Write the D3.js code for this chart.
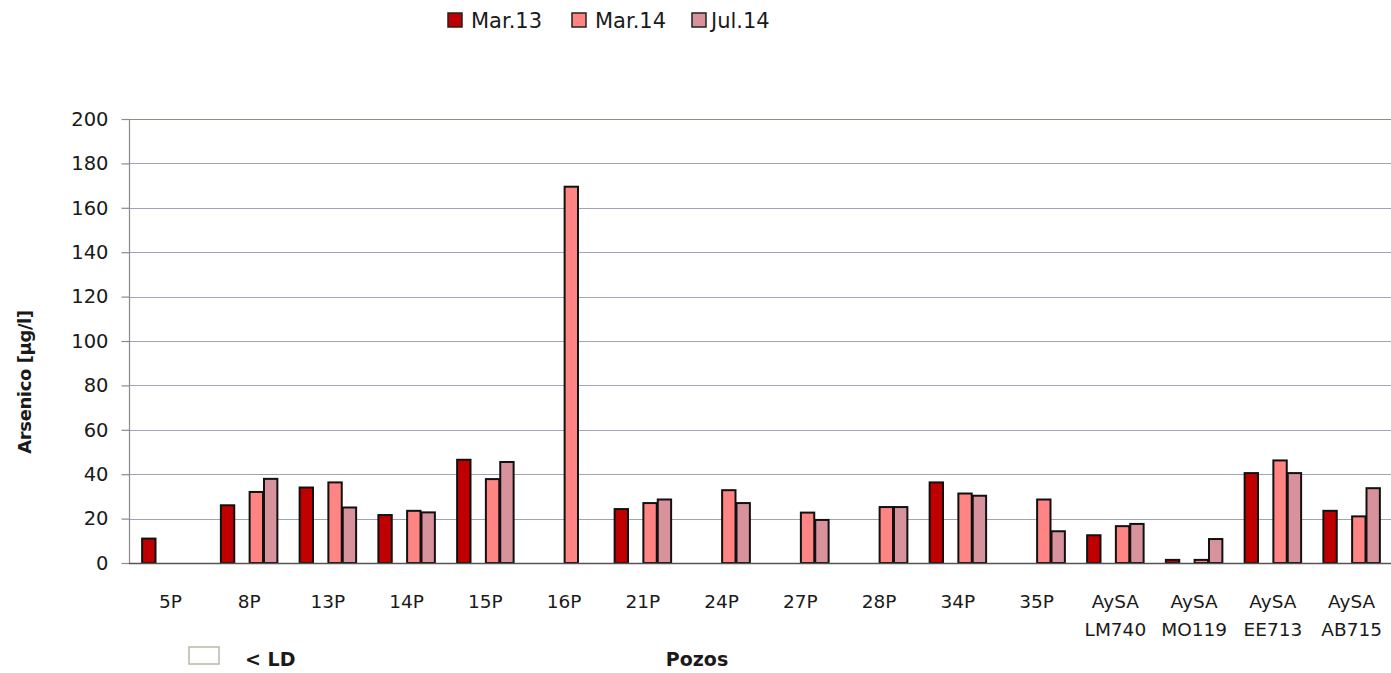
<!DOCTYPE html>
<html>
<head>
<meta charset="utf-8">
<script src="https://cdn.jsdelivr.net/npm/d3@7/dist/d3.min.js"></script>
<style>
  html, body { margin: 0; padding: 0; background: #ffffff; }
  svg { display: block; }
  text { font-family: "DejaVu Sans", Verdana, sans-serif; fill: #1a1a1a; }
</style>
</head>
<body>
<svg id="chart" width="1391" height="673"></svg>
<script>
// ---- data ----
const categories = ["5P", "8P", "13P", "14P", "15P", "16P", "21P", "24P", "27P", "28P", "34P", "35P",
  "AySA\nLM740", "AySA\nMO119", "AySA\nEE713", "AySA\nAB715"];
const seriesNames = ["Mar.13", "< LD", "Mar.14", "Jul.14"];
const mar13 = [11, 26, 34, 21.6, 46.5, null, 24.3, null, null, null, 36.3, null, 12.5, 1.4, 40.5, 23.5];
const ldValues = [null, null, null, null, null, null, null, null, null, null, null, null, null, null, null, null];
const mar14 = [null, 32, 36.3, 23.5, 37.8, 169.5, 27, 32.8, 22.7, 25.2, 31.3, 28.6, 16.6, 1.4, 46.2, 21];
const jul14 = [null, 37.9, 25, 22.8, 45.5, null, 28.6, 27, 19.4, 25.2, 30.3, 14.3, 17.6, 10.8, 40.5, 33.7];
const yTicks = [0, 20, 40, 60, 80, 100, 120, 140, 160, 180, 200];
const seriesValues = [mar13, ldValues, mar14, jul14];
const seriesColors = ["#c00000", "#ffffff", "#ff8585", "#d8929c"];

// ---- layout ----
const svg = d3.select("#chart");
const plotLeft = 131, plotRight = 1391, plotTop = 119, plotBottom = 563;

const x0 = d3.scaleBand().domain(categories).range([plotLeft, plotRight])
  .paddingInner(0.27).paddingOuter(0.135);
const x1 = d3.scaleBand().domain(seriesNames).range([0, x0.bandwidth()]).padding(0);
const y = d3.scaleLinear().domain([0, 200]).range([plotBottom, plotTop]);

// gridlines
svg.append("g").selectAll("line").data(yTicks.filter(d => d > 0)).join("line")
  .attr("x1", 129).attr("x2", plotRight)
  .attr("y1", d => Math.round(y(d)) + 0.5).attr("y2", d => Math.round(y(d)) + 0.5)
  .attr("stroke", d => d === 200 ? "#8f8f80" : "#a2a2b6").attr("stroke-width", 1.2);

// y axis
const yAxis = d3.axisLeft(y).tickValues(yTicks).tickSize(8).tickPadding(13);
const gy = svg.append("g").attr("transform", "translate(129.5,0)").call(yAxis);
gy.select(".domain").attr("stroke", "#8a8a8a").attr("stroke-width", 1.2).attr("d", `M0,${plotTop}V${plotBottom}`);
gy.selectAll(".tick line").attr("stroke", "#8a8a8a").attr("stroke-width", 1.2);
gy.selectAll(".tick text").attr("font-size", 19.5).attr("font-family", "DejaVu Sans, Verdana, sans-serif").attr("fill", "#1a1a1a");

// bars
const groups = svg.append("g").selectAll("g").data(categories).join("g")
  .attr("transform", d => `translate(${x0(d)},0)`);
groups.selectAll("rect")
  .data((c, i) => seriesNames.map((s, j) => ({ s, j, v: seriesValues[j][i] })).filter(d => d.v != null && d.v > 0))
  .join("rect")
  .attr("x", d => x1(d.s) + 0.5)
  .attr("width", x1.bandwidth() - 1)
  .attr("y", d => y(d.v))
  .attr("height", d => y(0) - y(d.v))
  .attr("fill", d => seriesColors[d.j])
  .attr("stroke", "#111")
  .attr("stroke-width", 2);

// baseline
svg.append("line").attr("x1", 129).attr("x2", plotRight)
  .attr("y1", plotBottom + 0.5).attr("y2", plotBottom + 0.5)
  .attr("stroke", "#555").attr("stroke-width", 1.6);

// x category labels
const xl = svg.append("g").selectAll("text").data(categories).join("text")
  .attr("x", d => x0(d) + x0.bandwidth() / 2)
  .attr("y", 608)
  .attr("text-anchor", "middle")
  .attr("font-size", 18.5);
xl.each(function(d) {
  const lines = d.split("\n");
  const t = d3.select(this);
  lines.forEach((ln, k) => {
    t.append("tspan").attr("x", x0(d) + x0.bandwidth() / 2).attr("dy", k === 0 ? 0 : 28).text(ln);
  });
});

// axis titles
svg.append("text")
  .attr("transform", "translate(31,382) rotate(-90)")
  .attr("text-anchor", "middle")
  .attr("font-family", "Liberation Sans, Arial, sans-serif")
  .attr("font-weight", "bold")
  .attr("font-size", 18)
  .attr("letter-spacing", -0.4)
  .text("Arsenico [µg/l]");

svg.append("text")
  .attr("x", 697).attr("y", 666)
  .attr("text-anchor", "middle")
  .attr("font-family", "Liberation Sans, Arial, sans-serif")
  .attr("font-weight", "bold")
  .attr("font-size", 19)
  .text("Pozos");

// top legend
const legendItems = [
  { name: "Mar.13", color: seriesColors[0], x: 448 },
  { name: "Mar.14", color: seriesColors[2], x: 572 },
  { name: "Jul.14", color: seriesColors[3], x: 692 }
];
const lg = svg.append("g").selectAll("g").data(legendItems).join("g")
  .attr("transform", d => `translate(${d.x},13)`);
lg.append("rect").attr("width", 14).attr("height", 14)
  .attr("fill", d => d.color).attr("stroke", "#222").attr("stroke-width", 1.5);
lg.append("text").attr("x", d => d.name === "Jul.14" ? 19 : 23).attr("y", 15)
  .attr("font-size", 21).text(d => d.name);

// bottom legend for < LD
svg.append("rect").attr("x", 189).attr("y", 647).attr("width", 30).attr("height", 17)
  .attr("fill", "#ffffff").attr("stroke", "#b8b8a8").attr("stroke-width", 1.5);
svg.append("text").attr("x", 245).attr("y", 666)
  .attr("font-family", "Liberation Sans, Arial, sans-serif")
  .attr("font-weight", "bold").attr("font-size", 19).text("< LD");
</script>
</body>
</html>
